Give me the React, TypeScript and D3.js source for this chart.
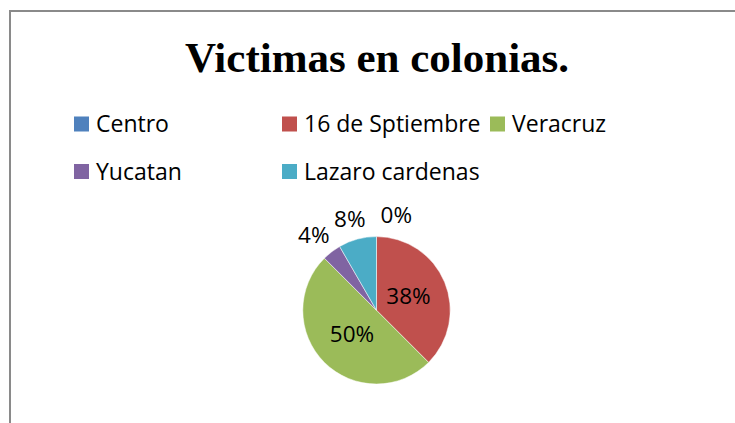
import React from "react";
import * as d3 from "d3";

const categories = ["Centro", "16 de Sptiembre", "Veracruz", "Yucatan", "Lazaro cardenas"];
const values = [0, 9, 12, 1, 2];
const colors = ["#4F81BD", "#C0504D", "#9BBB59", "#8064A2", "#4BACC6"];
const title = "Victimas en colonias.";

const W = 735, H = 423;
const cx = 376.5, cy = 310.3, R = 73.7;

export default function App() {
  const total = d3.sum(values);
  const pie = d3.pie<number>().sort(null).value((d) => d)(values);
  const arc = d3.arc<d3.PieArcDatum<number>>().innerRadius(0).outerRadius(R);
  const fmt = (v: number) => `${Math.round((v / total) * 100)}%`;
  const font = "'Open Sans', 'Noto Sans', sans-serif";
  const labelSize = 22.5;

  // label positions: inside for large slices, outside (with simple collision nudging) for small
  const lw = labelSize * 1.45, lh = labelSize * 0.75;
  const textH = labelSize * 0.55;
  const boxes: { x: number; y: number; w: number }[] = [];
  const labelPositions: [number, number][] = new Array(pie.length);
  const order = pie.map((_, i) => i).reverse();
  order.forEach((i) => {
    const d = pie[i];
    const share = d.value / total;
    const mid = (d.startAngle + d.endAngle) / 2;
    const s = Math.sin(mid), c = Math.cos(mid);
    if (share > 0.2) {
      labelPositions[i] = [s * R * 0.47, -c * R * 0.47 - 1];
      return;
    }
    const r = R + 13;
    let x = s * r + s * lw / 2;
    const y = -c * r - c * lh / 2;
    const w = fmt(d.value).length * labelSize * 0.7;
    for (const b of boxes) {
      if (Math.abs(b.y - y) < textH && x >= b.x && Math.abs(b.x - x) < (b.w + w) / 2 + 15) {
        x = b.x + (b.w + w) / 2 + 15;
      }
    }
    boxes.push({ x, y, w });
    labelPositions[i] = [x, y];
  });

  const legendCols = [74, 282, 490];
  const legendRows = [124, 171.5];
  const legendPos = categories.map((_, i) => [legendCols[i % 3], legendRows[Math.floor(i / 3)]]);

  return (
    <svg width={W} height={H} style={{ position: "absolute", left: 0, top: 0 }}>
      <rect x={0} y={0} width={W} height={H} fill="#fff" />
      <path d={`M10,${H} L10,11 L${W},11`} fill="none" stroke="#8a8a8a" strokeWidth={2} />
      <text x={377} y={72} textAnchor="middle" fontFamily="'Liberation Serif', 'Times New Roman', serif" fontWeight="bold" fontSize={43}>
        {title}
      </text>
      {categories.map((c, i) => (
        <g key={c} transform={`translate(${legendPos[i][0]},${legendPos[i][1]})`}>
          <rect x={0} y={-7.5} width={15} height={15} fill={colors[i]} />
          <text x={22} y={0} dy="0.36em" fontFamily={font} fontSize={23} fill="#000">
            {c}
          </text>
        </g>
      ))}
      <g transform={`translate(${cx},${cy})`}>
        {pie.map((d, i) => (
          <path key={i} d={arc(d) || ""} fill={colors[i]} stroke="#fff" strokeWidth={0.5} />
        ))}
        {pie.map((d, i) => {
          const [x, y] = labelPositions[i];
          return (
            <text key={"l" + i} x={x} y={y} dy="0.36em" textAnchor="middle" fontFamily={font} fontSize={labelSize} fill="#000">
              {fmt(d.value)}
            </text>
          );
        })}
      </g>
    </svg>
  );
}
